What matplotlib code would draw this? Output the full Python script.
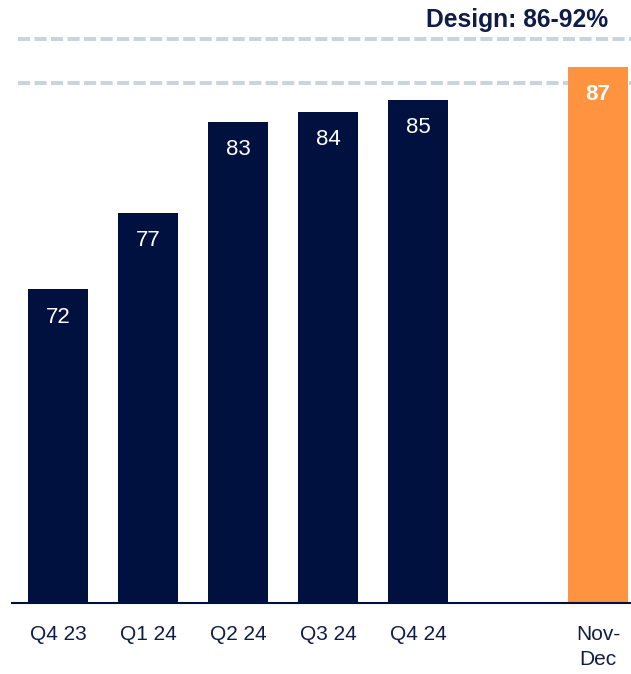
import matplotlib
matplotlib.use("Agg")
import matplotlib.pyplot as plt
import numpy as np

# ---- data ----
categories = ["Q4 23", "Q1 24", "Q2 24", "Q3 24", "Q4 24", "Nov-\nDec"]
values = [71.7, 77.0, 83.3, 84.0, 84.8, 87.1]
design_low = 86
design_line_top = 89
title_text = "Design: 86-92%"

NAVY = "#00113f"
ORANGE = "#ff9340"
DASH = "#c8d4e0"
TEXT = "#0f1c48"

plt.rcParams['font.family'] = ['Liberation Sans', 'DejaVu Sans']

W, H = 631, 674
fig = plt.figure(figsize=(W / 100, H / 100), dpi=100)
ax = fig.add_axes([12 / W, 71 / H, 1 - 12 / W, 1 - 71 / H])

n = len(categories)
x = np.array([i if i < n - 1 else i + 1 for i in range(n)], dtype=float)
colors = [NAVY] * (n - 1) + [ORANGE]

ymin = 50
ax.set_ylim(ymin, ymin + 603 / 14.45)
ax.set_xlim(-0.511, 6.367)

for yv in (design_low, design_line_top):
    ax.axhline(yv, color=DASH, lw=2.9, ls=(0, (3, 1.1)), zorder=1,
               xmin=0.01, xmax=1)

bars = ax.bar(x, [v - ymin for v in values], bottom=ymin, width=0.667,
              color=colors, zorder=2)

for i, (xi, v) in enumerate(zip(x, values)):
    ax.annotate(f"{v:.0f}", xy=(xi, v), xytext=(0, -20),
                textcoords="offset points", ha="center", va="center",
                color="white", fontsize=16,
                fontweight="bold" if i == n - 1 else "normal", zorder=3)

ax.set_xticks(x)
ax.set_xticklabels(categories, fontsize=15, color=TEXT, linespacing=1.45)
ax.tick_params(axis="x", length=0, pad=15.5)
ax.set_yticks([])
for s in ("top", "right", "left"):
    ax.spines[s].set_visible(False)
ax.spines["bottom"].set_color(NAVY)
ax.spines["bottom"].set_linewidth(1.5)
ax.patch.set_alpha(0)

fig.text(608 / W, 1 - 27 / H, title_text, ha="right", va="baseline",
         fontsize=17.7, fontweight="bold", color=TEXT)

fig.savefig("out.png", dpi=100)
